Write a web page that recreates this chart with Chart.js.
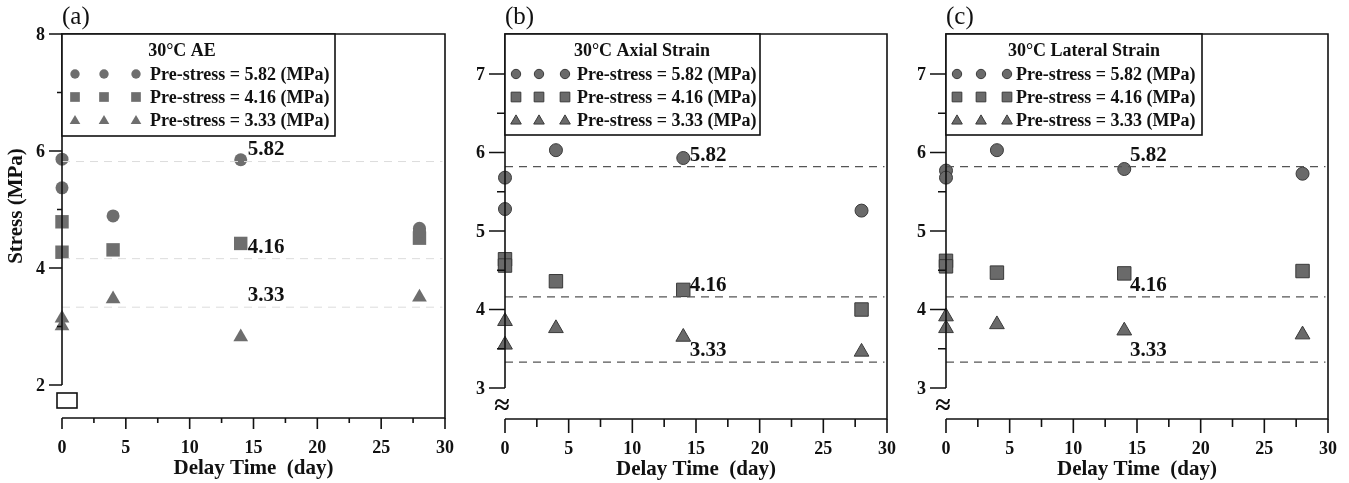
<!DOCTYPE html>
<html>
<head>
<meta charset="utf-8">
<script src="https://cdn.jsdelivr.net/npm/chart.js@4.4.0/dist/chart.umd.min.js"></script>
<style>
    body { margin: 0; background: #fff; width: 1349px; height: 483px; position: relative; overflow: hidden; }
    canvas { position: absolute; top: 0; }
</style>
</head>
<body>
<canvas id="chartA" width="455" height="483" style="left:0px"></canvas>
<canvas id="chartB" width="445" height="483" style="left:455px"></canvas>
<canvas id="chartC" width="449" height="483" style="left:900px"></canvas>
<script>
// shared
const dayTicks = [0, 5, 10, 15, 20, 25, 30];
const dayMinorTicks = [2.5, 7.5, 12.5, 17.5, 22.5, 27.5];
const refStress = [5.82, 4.16, 3.33];
const refLabels = ["5.82", "4.16", "3.33"];
const seriesNames = ["Pre-stress = 5.82 (MPa)", "Pre-stress = 4.16 (MPa)", "Pre-stress = 3.33 (MPa)"];

// (a) 30°C AE
const aeDays582 = [0, 0, 4, 14, 28, 28];
const aeStress582 = [5.86, 5.37, 4.89, 5.85, 4.68, 4.63];
const aeDays416 = [0, 0, 4, 14, 28];
const aeStress416 = [4.79, 4.27, 4.31, 4.42, 4.51];
const aeDays333 = [0, 0, 4, 14, 28];
const aeStress333 = [3.14, 3.01, 3.47, 2.82, 3.5];
const aeTicks = [2, 4, 6, 8];
const aeMinorTicks = [3, 5, 7];

// (b) 30°C Axial Strain
const axDays = [0, 0, 4, 14, 28];
const axStress582 = [5.68, 5.28, 6.03, 5.93, 5.26];
const axStress416 = [4.64, 4.56, 4.36, 4.25, 4.0];
const axStress333 = [3.85, 3.55, 3.76, 3.65, 3.46];

// (c) 30°C Lateral Strain
const latDays = [0, 0, 4, 14, 28];
const latStress582 = [5.77, 5.68, 6.03, 5.79, 5.73];
const latStress416 = [4.62, 4.55, 4.47, 4.46, 4.49];
const latStress333 = [3.91, 3.76, 3.81, 3.73, 3.68];

const strainTicks = [3, 4, 5, 6, 7];
const strainMinorTicks = [3.5, 4.5, 5.5, 6.5];

const FONT = "'Liberation Serif', 'Times New Roman', serif";
const markerStyles = ["circle", "rect", "triangle"];
const markerRadius = [6.5, 9.5, 8.5];

function toPoints(xs, ys) {
    return xs.map((x, i) => ({ x: x, y: ys[i] }));
}

function panelPlugin(p) {
    return {
        id: "panel",
        afterDraw(chart) {
            const ctx = chart.ctx;
            const a = chart.chartArea;
            const xs = chart.scales.x;
            const ys = chart.scales.y;
            ctx.save();

            // frame (left axis stops at the break)
            ctx.strokeStyle = "#111";
            ctx.lineWidth = 1.6;
            const yBreak = ys.getPixelForValue(p.breakAt);
            ctx.beginPath();
            ctx.moveTo(a.left, yBreak);
            ctx.lineTo(a.left, a.top);
            ctx.lineTo(a.right, a.top);
            ctx.lineTo(a.right, a.bottom);
            ctx.lineTo(a.left, a.bottom);
            ctx.stroke();

            // y ticks
            ctx.beginPath();
            p.yTicks.forEach(v => {
                const y = ys.getPixelForValue(v);
                ctx.moveTo(a.left - p.majorLen, y);
                ctx.lineTo(a.left, y);
            });
            p.yMinor.forEach(v => {
                const y = ys.getPixelForValue(v);
                ctx.moveTo(a.left - p.minorLen, y);
                ctx.lineTo(a.left, y);
            });
            // x ticks
            dayTicks.forEach(v => {
                const x = xs.getPixelForValue(v);
                ctx.moveTo(x, a.bottom);
                ctx.lineTo(x, a.bottom + p.majorLen - 2);
            });
            dayMinorTicks.forEach(v => {
                const x = xs.getPixelForValue(v);
                ctx.moveTo(x, a.bottom);
                ctx.lineTo(x, a.bottom + p.minorLen);
            });
            ctx.stroke();

            // tick labels
            ctx.fillStyle = "#111";
            ctx.font = "bold 18px " + FONT;
            ctx.textAlign = "right";
            ctx.textBaseline = "middle";
            p.yTicks.forEach(v => {
                ctx.fillText(String(v), a.left - p.majorLen - 4, ys.getPixelForValue(v) + 1);
            });
            ctx.textAlign = "center";
            dayTicks.forEach(v => {
                ctx.fillText(String(v), xs.getPixelForValue(v), a.bottom + 30);
            });

            // axis titles
            ctx.font = "bold 21px " + FONT;
            ctx.fillText("Delay Time  (day)", (a.left + a.right) / 2, a.bottom + 51);
            if (p.yTitle) {
                ctx.save();
                ctx.translate(17, a.top + 172);
                ctx.rotate(-Math.PI / 2);
                ctx.fillText(p.yTitle, 0, 0);
                ctx.restore();
            }

            // panel label
            ctx.font = "25px " + FONT;
            ctx.textAlign = "left";
            ctx.fillText(p.tag, a.left, 17);

            // break symbol
            if (p.breakBox) {
                ctx.lineWidth = 1.6;
                ctx.strokeRect(a.left - 5, a.bottom - 25, 20, 15);
            } else {
                ctx.font = "bold 28px " + FONT;
                ctx.textAlign = "center";
                ctx.fillText("\u2248", a.left - 3, a.bottom - 12);
            }

            // reference value labels
            ctx.font = "bold 21px " + FONT;
            ctx.textAlign = "left";
            ctx.textBaseline = "bottom";
            refStress.forEach((v, i) => {
                ctx.fillText(refLabels[i], xs.getPixelForValue(p.labelAt), ys.getPixelForValue(v) - 1);
            });

            // legend box
            const lx = a.left, ly = a.top;
            ctx.fillStyle = "#fff";
            ctx.fillRect(lx, ly, p.legendW, p.legendH);
            ctx.strokeStyle = "#111";
            ctx.lineWidth = 1.6;
            ctx.strokeRect(lx, ly, p.legendW, p.legendH);
            ctx.fillStyle = "#111";
            ctx.font = "bold 18px " + FONT;
            ctx.textAlign = "center";
            ctx.textBaseline = "middle";
            ctx.fillText(p.title, lx + p.titleX, ly + 17);
            ctx.textAlign = "left";
            seriesNames.forEach((name, i) => {
                const y = ly + 40 + i * 23;
                ctx.fillStyle = p.fill;
                ctx.strokeStyle = p.stroke;
                ctx.lineWidth = p.border;
                p.legendMarks.forEach(mx => {
                    Chart.helpers.drawPoint(ctx, {
                        pointStyle: markerStyles[i],
                        radius: markerRadius[i] * 0.72,
                        borderWidth: p.border,
                        rotation: 0
                    }, lx + mx, y + (i === 2 ? 1 : 0));
                });
                ctx.fillStyle = "#111";
                ctx.fillText(name, lx + p.textX, y + 1);
            });

            ctx.restore();
        }
    };
}

function makePanel(id, series, p) {
    const datasets = refStress.map(v => ({
        type: "line",
        data: [{ x: 0, y: v }, { x: 29.8, y: v }],
        borderColor: p.refColor,
        borderWidth: p.refWidth,
        borderDash: [8, 6],
        pointRadius: 0,
        fill: false,
        clip: false
    }));
    series.forEach((s, i) => {
        datasets.push({
            type: "scatter",
            label: seriesNames[i],
            data: toPoints(s[0], s[1]),
            pointStyle: markerStyles[i],
            pointRadius: markerRadius[i],
            backgroundColor: p.fill,
            borderColor: p.stroke,
            borderWidth: p.border,
            clip: false
        });
    });
    return new Chart(document.getElementById(id), {
        type: "scatter",
        data: { datasets },
        options: {
            responsive: false,
            animation: false,
            events: [],
            layout: { padding: p.padding },
            plugins: { legend: { display: false }, tooltip: { enabled: false } },
            scales: {
                x: { type: "linear", min: 0, max: 30, display: false },
                y: { type: "linear", min: p.yMin, max: p.yMax, display: false }
            }
        },
        plugins: [panelPlugin(p)]
    });
}

makePanel("chartA", [
    [aeDays582, aeStress582],
    [aeDays416, aeStress416],
    [aeDays333, aeStress333]
], {
    tag: "(a)", title: "30°C AE", yTitle: "Stress (MPa)",
    padding: { left: 62, right: 10, top: 34, bottom: 65 },
    yMin: 1.436, yMax: 8, yTicks: aeTicks, yMinor: aeMinorTicks, breakAt: 2, breakBox: true,
    majorLen: 13, minorLen: 5, labelAt: 14.55,
    refColor: "#dcdcdc", refWidth: 1,
    fill: "#6e6e6e", stroke: "#6e6e6e", border: 0,
    legendW: 273, legendH: 102, titleX: 120, textX: 88, legendMarks: [13, 42, 74]
});

makePanel("chartB", [
    [axDays, axStress582],
    [axDays, axStress416],
    [axDays, axStress333]
], {
    tag: "(b)", title: "30°C Axial Strain",
    padding: { left: 50, right: 13, top: 34, bottom: 64 },
    yMin: 2.605, yMax: 7.51, yTicks: strainTicks, yMinor: strainMinorTicks, breakAt: 3, breakBox: false,
    majorLen: 16, minorLen: 8, labelAt: 14.5,
    refColor: "#555", refWidth: 1.2,
    fill: "#6a6a6a", stroke: "#3a3a3a", border: 1,
    legendW: 255, legendH: 101, titleX: 137, textX: 72, legendMarks: [11, 34, 60]
});

makePanel("chartC", [
    [latDays, latStress582],
    [latDays, latStress416],
    [latDays, latStress333]
], {
    tag: "(c)", title: "30°C Lateral Strain",
    padding: { left: 46, right: 21, top: 34, bottom: 64 },
    yMin: 2.605, yMax: 7.51, yTicks: strainTicks, yMinor: strainMinorTicks, breakAt: 3, breakBox: false,
    majorLen: 16, minorLen: 8, labelAt: 14.45,
    refColor: "#555", refWidth: 1.2,
    fill: "#6a6a6a", stroke: "#3a3a3a", border: 1,
    legendW: 256, legendH: 101, titleX: 138, textX: 70, legendMarks: [11, 35, 61]
});
</script>
</body>
</html>
